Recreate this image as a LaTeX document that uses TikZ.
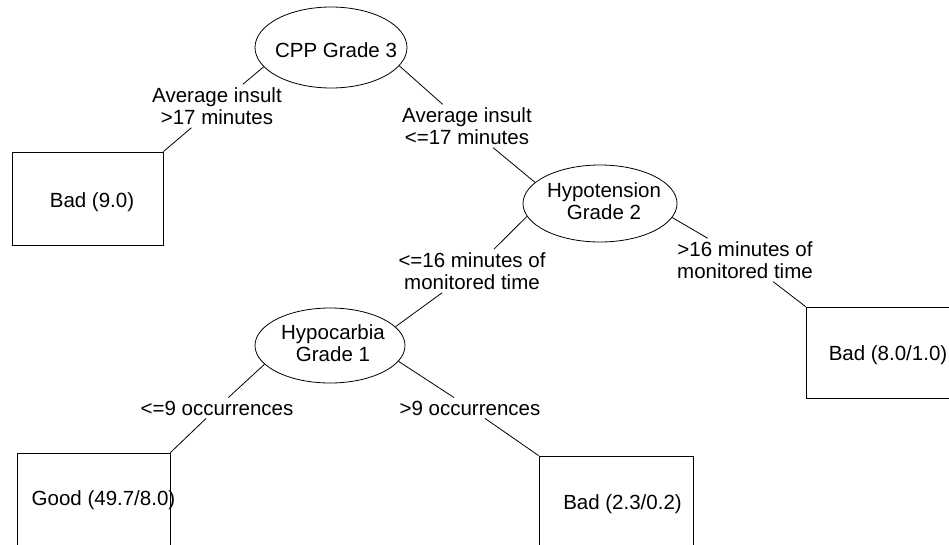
\documentclass[tikz,border=0pt]{standalone}
\usepackage{fontspec}
\setmainfont{Liberation Sans}
\usetikzlibrary{shapes.geometric}
\begin{document}
\begin{tikzpicture}[x=1pt,y=-1pt,
  font=\fontsize{20.5}{22}\selectfont,
  dnode/.style={ellipse, draw, line width=0.8pt, inner sep=0pt},
  leaf/.style={rectangle, draw, line width=0.8pt, inner sep=0pt},
  txt/.style={inner sep=0pt, align=center},
  lbl/.style={inner sep=3pt, align=center},
  conn/.style={line width=0.8pt}]
\useasboundingbox (0,0) rectangle (949,544);
\clip (0,0) rectangle (949,544);
% decision nodes
\node[dnode, minimum width=152pt, minimum height=81pt] (cpp) at (331,47.5) {};
\node[txt] (cpptxt) at (336,50) {CPP Grade 3};
\node[dnode, minimum width=154pt, minimum height=77pt] (hyp) at (600,203.5) {};
\node[txt] (hyptxt) at (604,201) {Hypotension\\Grade 2};
\node[dnode, minimum width=150pt, minimum height=75pt] (hypc) at (330,345.5) {};
\node[txt] (hypctxt) at (333,343.5) {Hypocarbia\\Grade 1};
% leaves
\node[leaf, minimum width=151pt, minimum height=93pt] (badA) at (87.5,198.5) {};
\node[txt] (badAtxt) at (92,202) {Bad (9.0)};
\node[leaf, minimum width=151pt, minimum height=91pt] (bad8) at (881.5,352.5) {};
\node[txt] (bad8txt) at (888,355) {Bad (8.0/1.0)};
\node[leaf, minimum width=153pt, minimum height=93pt] (good) at (93.5,499.5) {};
\node[txt] (goodtxt) at (103.5,500) {Good (49.7/8.0)};
\node[leaf, minimum width=154pt, minimum height=93pt] (bad23) at (616,502.5) {};
\node[txt] (bad23txt) at (622.5,504) {Bad (2.3/0.2)};
% branch labels
\node[lbl] (lblA) at (217,106) {Average insult\\>17 minutes};
\node[lbl] (lblB) at (467,126) {Average insult\\<=17 minutes};
\node[lbl] (lblC) at (472,271) {<=16 minutes of\\monitored time};
\node[lbl] (lblD) at (745,260) {>16 minutes of\\monitored time};
\node[lbl] (lblE) at (217,408) {<=9 occurrences};
\node[lbl] (lblF) at (470,408) {>9 occurrences};
% connectors
\draw[conn] (cpp.196) -- (lblA);
\draw[conn] (lblA) -- (badA.north east);
\draw[conn] (cpp.345) -- (lblB);
\draw[conn] (lblB) -- (hyp.162);
\draw[conn] (hyp.190) -- (lblC);
\draw[conn] (lblC) -- (hypc.16);
\draw[conn] (hyp.349) -- (lblD);
\draw[conn] (lblD) -- (bad8.north west);
\draw[conn] (hypc.196) -- (lblE);
\draw[conn] (lblE) -- (good.north east);
\draw[conn] (hypc.347) -- (lblF);
\draw[conn] (lblF) -- (bad23.north west);
\end{tikzpicture}
\end{document}
